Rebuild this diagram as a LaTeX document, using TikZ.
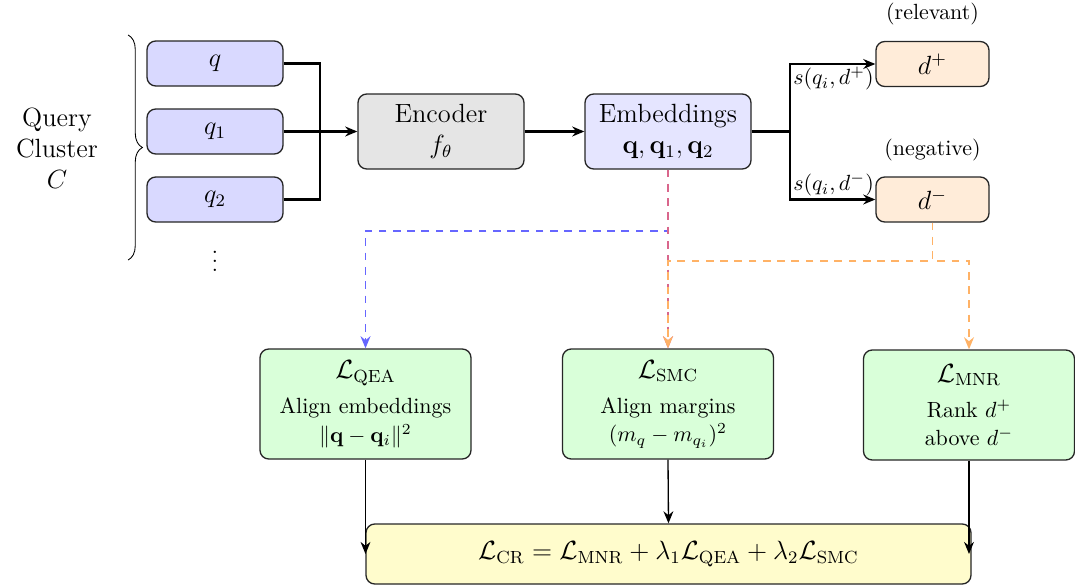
\documentclass[tikz,border=0pt]{standalone}
\usepackage{amsmath,amssymb}
\usetikzlibrary{arrows.meta,decorations.pathreplacing}

\begin{document}
\begin{tikzpicture}[line width=1pt, >={Stealth[length=5.5pt,width=4.5pt]},
    box/.style={draw=black!85, semithick, rounded corners=4pt, align=center},
    querybox/.style={box, fill=blue!15, minimum width=2.176cm, minimum height=0.72cm, font=\large},
    stagebox/.style={box, minimum width=2.656cm, minimum height=1.2cm, font=\large},
    docbox/.style={box, fill=orange!15, minimum width=1.808cm, minimum height=0.72cm, font=\large},
    lossbox/.style={box, fill=green!15, minimum width=3.376cm, minimum height=1.76cm},
    simlabel/.style={inner sep=1pt},
    guide/.style={->, line width=0.9pt, dash pattern=on 3.5pt off 3pt}]

\useasboundingbox (0,0) rectangle (17.2,-9.392);

% query cluster
\node[align=center, font=\large] (cluster) at (0.912,-2.368) {Query\\Cluster\\$C$};
\node[querybox] (q)  at (3.44,-1.016) {$q$};
\node[querybox] (q1) at (3.44,-2.104) {$q_1$};
\node[querybox] (q2) at (3.44,-3.192) {$q_2$};
\node[inner sep=0pt] (qdots) at (3.44,-4.08) {$\vdots$};
\draw[thin, decorate, decoration={brace, amplitude=6.5pt}] (2.05,-0.56) -- (2.05,-4.16);

% encoder and embeddings
\node[stagebox, fill=gray!20] (enc) at (7.056,-2.104) {Encoder\\$f_\theta$};
\node[stagebox, fill=blue!10] (emb) at (10.688,-2.104) {Embeddings\\$\mathbf{q},\mathbf{q}_1,\mathbf{q}_2$};
\coordinate (merge) at (5.12,-2.104);
\coordinate (split) at (12.64,-2.104);

\draw (q.east) -| (merge);
\draw (q2.east) -| (merge);
\draw[->] (q1) -- (enc);
\draw[->] (enc) -- (emb);

% documents
\node[docbox, label={[label distance=3.5pt]above:(relevant)}] (dpos) at (14.92,-1.024) {$d^+$};
\node[docbox, label={[label distance=3pt]above:(negative)}] (dneg) at (14.92,-3.192) {$d^-$};

\draw (emb.east) -- (split);
\draw[->] (split) |- (dpos.west) node[simlabel, pos=0.5, below right] {$s(q_i,d^+)$};
\draw[->] (split) |- (dneg.west) node[simlabel, pos=0.5, above right] {$s(q_i,d^-)$};

% losses
\node[lossbox] (qea) at (5.848,-6.464) {{\large $\mathcal{L}_{\text{QEA}}$}\\[4pt] Align embeddings\\[1pt] $\|\mathbf{q}-\mathbf{q}_i\|^2$};
\node[lossbox] (smc) at (10.688,-6.464) {{\large $\mathcal{L}_{\text{SMC}}$}\\[4pt] Align margins\\[1pt] $(m_q-m_{q_i})^2$};
\node[lossbox] (mnr) at (15.504,-6.48) {{\large $\mathcal{L}_{\text{MNR}}$}\\[4pt] Rank $d^+$\\[1pt] above $d^-$};

\draw[guide, blue!60] (emb.south) -- ++(0,-0.976) -| (qea.north);
\draw[guide, purple!60] (emb.south) -- (smc.north);
\draw[guide, orange!60] (dneg.south) -- ++(0,-0.608) -| (smc.north);
\draw[guide, orange!60] (dneg.south) -- ++(0,-0.608) -| (mnr.north);

% total loss
\node[box, fill=yellow!20, minimum width=9.68cm, minimum height=0.96cm, font=\large] (cr) at (10.696,-8.864)
    {$\mathcal{L}_{\text{CR}} = \mathcal{L}_{\text{MNR}} + \lambda_1\mathcal{L}_{\text{QEA}} + \lambda_2\mathcal{L}_{\text{SMC}}$};

\draw[->, semithick] (qea.south) -- (qea.south |- cr.west);
\draw[->, semithick] (smc.south) -- (cr.north);
\draw[->, semithick] (mnr.south) -- (mnr.south |- cr.east);
\end{tikzpicture}
\end{document}
